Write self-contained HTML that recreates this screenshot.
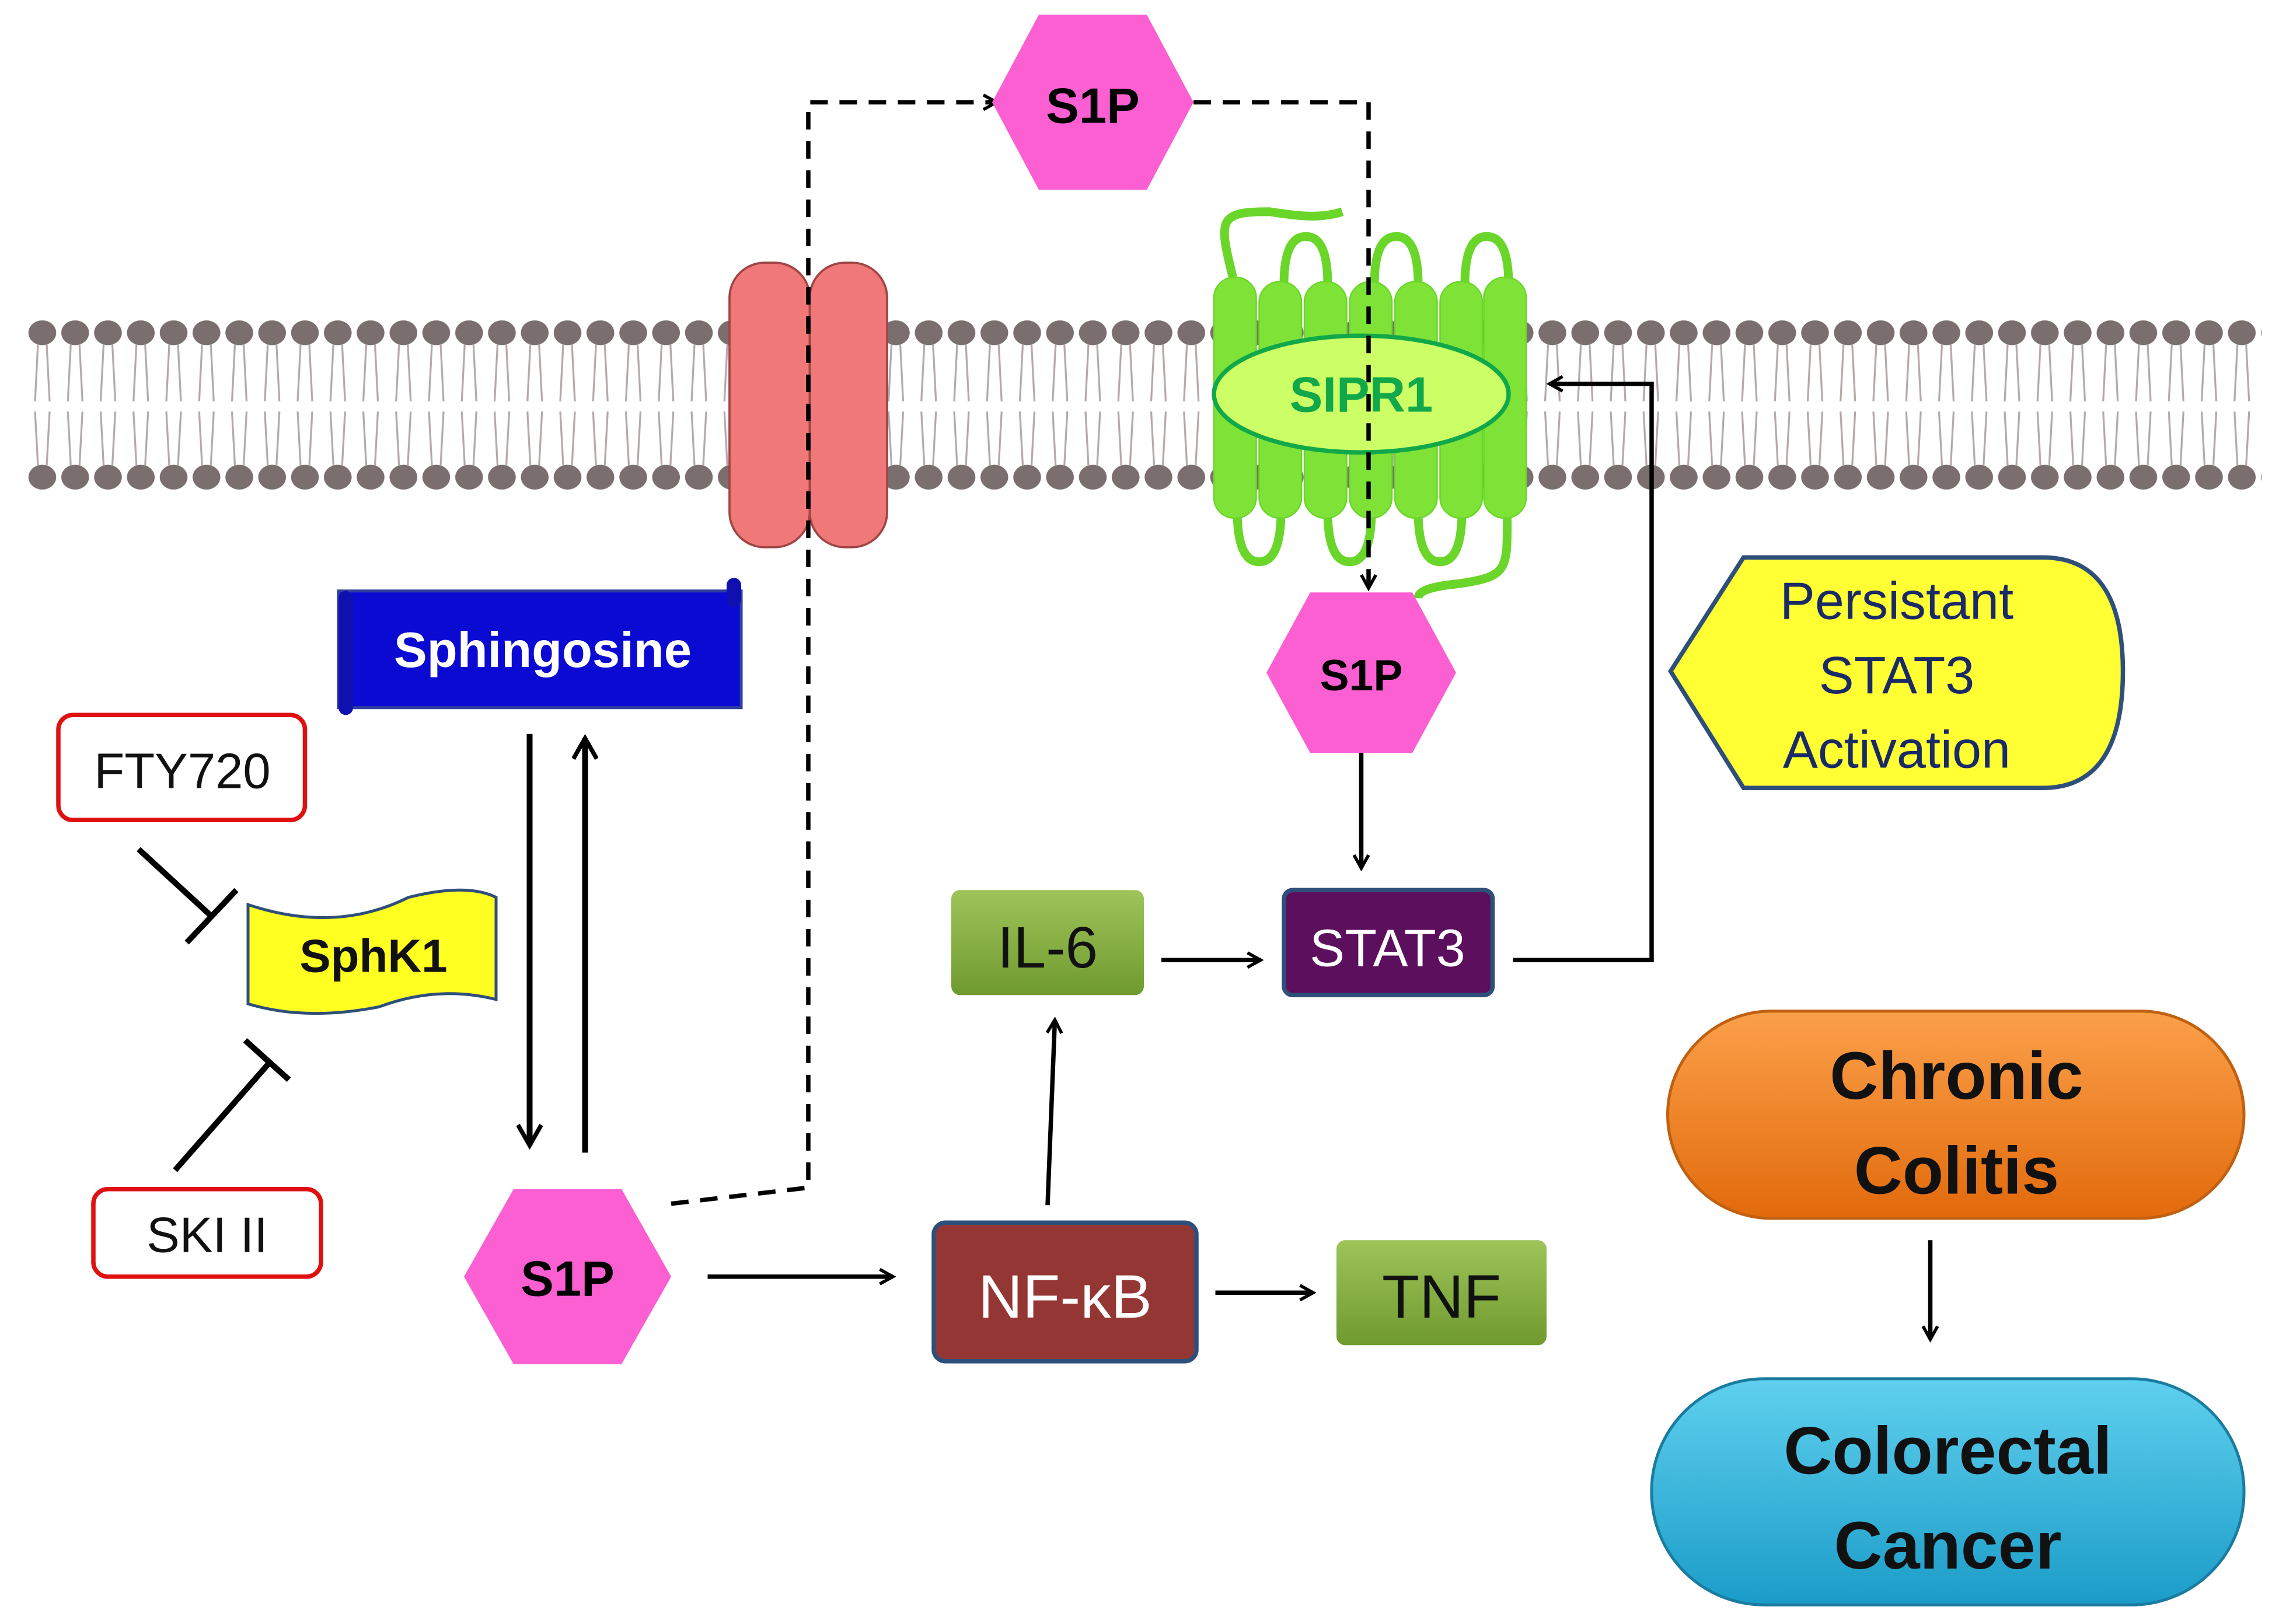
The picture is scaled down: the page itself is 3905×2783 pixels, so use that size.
<!DOCTYPE html>
<html><head><meta charset="utf-8"><style>
html,body{margin:0;padding:0;background:#fff}
svg{display:block}
text{font-family:"Liberation Sans","DejaVu Sans",sans-serif}
</style></head><body>
<svg width="3905" height="2783" viewBox="0 0 1562 1113" xmlns="http://www.w3.org/2000/svg">
<defs>
<pattern id="lip" x="18" y="0" width="22.5" height="1113" patternUnits="userSpaceOnUse">
<ellipse cx="11" cy="228" rx="9.5" ry="8.5" fill="#7a6e6e"/>
<ellipse cx="11" cy="327" rx="9.5" ry="8.5" fill="#7a6e6e"/>
<path d="M8 236 L6 275 M14 236 L16 275 M6 282 L8 319 M16 282 L14 319" stroke="#b5a8a8" stroke-width="1.3" fill="none"/>
</pattern>
<marker id="ah" markerWidth="12" markerHeight="12" refX="10" refY="6" orient="auto" markerUnits="userSpaceOnUse"><path d="M1 1 L10 6 L1 11" fill="none" stroke="#000" stroke-width="2.2"/></marker>
<marker id="ah2" markerWidth="18" markerHeight="18" refX="15" refY="9" orient="auto" markerUnits="userSpaceOnUse"><path d="M1 1 L15 9 L1 17" fill="none" stroke="#000" stroke-width="3"/></marker>
<linearGradient id="gr" x1="0" y1="0" x2="0" y2="1"><stop offset="0" stop-color="#9ec45a"/><stop offset="1" stop-color="#6f9a2e"/></linearGradient>
<linearGradient id="or" x1="0" y1="0" x2="0" y2="1"><stop offset="0" stop-color="#fba04a"/><stop offset="1" stop-color="#e26a0c"/></linearGradient>
<linearGradient id="bl" x1="0" y1="0" x2="0" y2="1"><stop offset="0" stop-color="#5fd0ee"/><stop offset="1" stop-color="#1b9cc8"/></linearGradient>
</defs>
<rect x="18" y="215" width="1532" height="125" fill="url(#lip)"/>

<!-- channel -->
<rect x="500" y="180" width="55" height="195" rx="24" fill="#f07878" stroke="#a04545" stroke-width="1.5"/>
<rect x="555" y="180" width="53" height="195" rx="24" fill="#f07878" stroke="#a04545" stroke-width="1.5"/>

<!-- receptor -->
<g fill="#7fe337" stroke="#6ad62a">
<path d="M845 190 C835 150 835 145 870 145 C890 148 905 150 920 145" fill="none" stroke-width="6"/>
<path d="M880 195 Q880 162 895 162 Q910 162 910 195 M942 195 Q942 162 957 162 Q972 162 972 195 M1004 195 Q1004 162 1019 162 Q1034 162 1034 195" fill="none" stroke-width="6"/>
<path d="M848 350 Q848 385 863 385 Q878 385 878 350 M910 350 Q910 385 925 385 Q940 385 940 350 M972 350 Q972 385 987 385 Q1002 385 1002 350" fill="none" stroke-width="6"/>
<path d="M1033 350 C1033 390 1035 395 1000 400 C980 402 972 405 972 410" fill="none" stroke-width="6"/>
<rect x="832" y="190" width="29" height="165" rx="14"/>
<rect x="863" y="193" width="29" height="162" rx="14"/>
<rect x="894" y="193" width="29" height="162" rx="14"/>
<rect x="925" y="193" width="29" height="162" rx="14"/>
<rect x="956" y="193" width="29" height="162" rx="14"/>
<rect x="987" y="193" width="29" height="162" rx="14"/>
<rect x="1017" y="190" width="29" height="165" rx="14"/>
</g>
<ellipse cx="933" cy="270" rx="101" ry="40" fill="#ccff66" stroke="#11a84a" stroke-width="3"/>
<text x="933" y="282" font-size="34" font-weight="bold" fill="#11a84a" text-anchor="middle">SIPR1</text>

<!-- dashed path -->
<path d="M460 825 L554 814 L554 70 L683 70" fill="none" stroke="#000" stroke-width="3" stroke-dasharray="12,8" marker-end="url(#ah)"/>
<path d="M818 70 L938 70 L938 403" fill="none" stroke="#000" stroke-width="3" stroke-dasharray="12,8" marker-end="url(#ah)"/>

<!-- hexagons -->
<polygon points="680,70 712,10 786,10 818,70 786,130 712,130" fill="#fb5fd2"/>
<text x="749" y="84" font-size="34" font-weight="bold" text-anchor="middle">S1P</text>
<polygon points="868,461 898,406 968,406 998,461 968,516 898,516" fill="#fb5fd2"/>
<text x="933" y="473" font-size="30" font-weight="bold" text-anchor="middle">S1P</text>
<polygon points="318,875 352,815 426,815 460,875 426,935 352,935" fill="#fb5fd2"/>
<text x="389" y="888" font-size="34" font-weight="bold" text-anchor="middle">S1P</text>

<!-- arrows -->
<g stroke="#000" stroke-width="3" fill="none">
<path d="M933 516 L933 595" marker-end="url(#ah)"/>
<path d="M1037 658 L1132 658 L1132 263 L1062 263" marker-end="url(#ah)"/>
<path d="M796 658 L864 658" marker-end="url(#ah)"/>
<path d="M718 826 L723 699" marker-end="url(#ah)"/>
<path d="M833 886 L900 886" marker-end="url(#ah)"/>
<path d="M485 875 L612 875" marker-end="url(#ah)"/>
<path d="M363 503 L363 785" stroke-width="4" marker-end="url(#ah2)"/>
<path d="M401 790 L401 506" stroke-width="4" marker-end="url(#ah2)"/>
<path d="M1323 850 L1323 918" marker-end="url(#ah)"/>
<path d="M95 582 L145 628 M128 646 L162 610" stroke-width="4"/>
<path d="M120 802 L185 728 M168 713 L198 740" stroke-width="4"/>
</g>

<!-- STAT3 -->
<rect x="880" y="610" width="143" height="72" rx="6" fill="#5c0f5c" stroke="#2e4f7a" stroke-width="3"/>
<text x="951" y="662" font-size="36" fill="#fff" text-anchor="middle">STAT3</text>
<!-- IL-6 -->
<rect x="652" y="610" width="132" height="72" rx="6" fill="url(#gr)"/>
<text x="718" y="663" font-size="40" fill="#111" text-anchor="middle">IL-6</text>
<!-- NF-kB -->
<rect x="640" y="838" width="180" height="95" rx="8" fill="#943634" stroke="#2e4f7a" stroke-width="3"/>
<text x="730" y="903" font-size="42" fill="#fff" text-anchor="middle">NF-κB</text>
<!-- TNF -->
<rect x="916" y="850" width="144" height="72" rx="6" fill="url(#gr)"/>
<text x="988" y="903" font-size="42" fill="#111" text-anchor="middle">TNF</text>

<!-- Persistant -->
<path d="M1145 460 L1195 382 L1400 382 Q1455 382 1455 460 Q1455 540 1400 540 L1195 540 Z" fill="#ffff33" stroke="#2e4f7a" stroke-width="3"/>
<text font-size="36" fill="#1a2a66" text-anchor="middle"><tspan x="1300" y="424">Persistant</tspan><tspan x="1300" y="475">STAT3</tspan><tspan x="1300" y="526">Activation</tspan></text>

<!-- Sphingosine -->
<rect x="232" y="405" width="276" height="80" fill="#0a0ad2" stroke="#3040a0" stroke-width="2"/>
<rect x="232" y="405" width="10" height="85" rx="5" fill="#1010b0"/>
<rect x="498" y="396" width="10" height="20" rx="5" fill="#1010b0"/>
<text x="372" y="457" font-size="34" font-weight="bold" fill="#fff" text-anchor="middle">Sphingosine</text>

<!-- SphK1 -->
<path d="M170 620 Q230 640 280 615 Q320 605 340 615 L340 685 Q300 675 260 690 Q210 700 170 688 Z" fill="#ffff22" stroke="#2e4f7a" stroke-width="2"/>
<text x="256" y="666" font-size="32" font-weight="bold" fill="#111" text-anchor="middle">SphK1</text>

<!-- FTY720 / SKI II -->
<rect x="40" y="490" width="169" height="72" rx="10" fill="#fff" stroke="#e01010" stroke-width="3"/>
<text x="125" y="540" font-size="34" fill="#111" text-anchor="middle">FTY720</text>
<rect x="64" y="815" width="156" height="60" rx="10" fill="#fff" stroke="#e01010" stroke-width="3"/>
<text x="142" y="858" font-size="34" fill="#111" text-anchor="middle">SKI II</text>

<!-- Chronic colitis -->
<rect x="1143" y="693" width="395" height="142" rx="71" fill="url(#or)" stroke="#c06010" stroke-width="2"/>
<text font-size="46" font-weight="bold" fill="#111" text-anchor="middle"><tspan x="1341" y="753">Chronic</tspan><tspan x="1341" y="818">Colitis</tspan></text>
<!-- Colorectal cancer -->
<rect x="1132" y="945" width="406" height="155" rx="77" fill="url(#bl)" stroke="#1a7ca0" stroke-width="2"/>
<text font-size="46" font-weight="bold" fill="#111" text-anchor="middle"><tspan x="1335" y="1010">Colorectal</tspan><tspan x="1335" y="1075">Cancer</tspan></text>
</svg>
</body></html>
